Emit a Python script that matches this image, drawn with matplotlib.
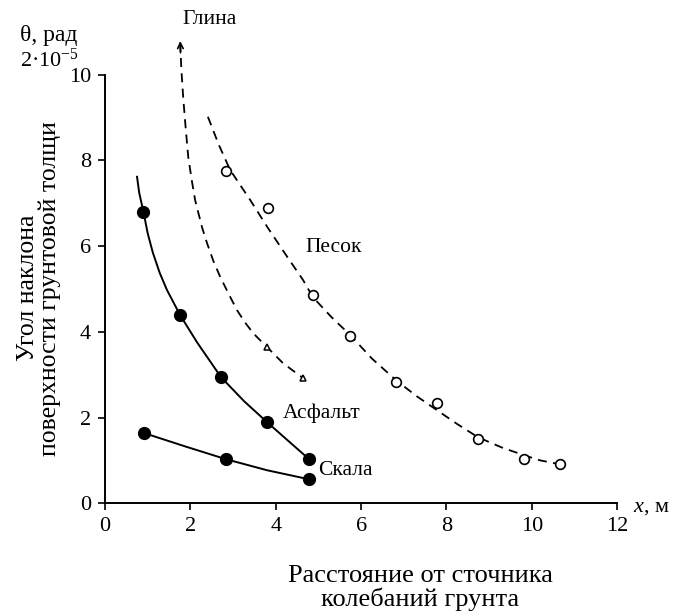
import matplotlib
matplotlib.use('Agg')
from matplotlib import pyplot as plt

plt.rcParams['font.family'] = ['Liberation Serif', 'DejaVu Serif']
plt.rcParams['mathtext.fontset'] = 'custom'
plt.rcParams['mathtext.rm'] = 'Liberation Serif'
plt.rcParams['mathtext.it'] = 'Liberation Serif:italic'

# Асфальт: measured points and curve
asph_x = [0.90, 1.76, 2.72, 3.80, 4.78]
asph_y = [6.8, 4.39, 2.94, 1.89, 1.03]
asph_cx = [0.75, 0.80, 0.90, 1.00, 1.12, 1.28, 1.45, 1.76, 2.16, 2.72, 3.26, 3.80, 4.3, 4.78]
asph_cy = [7.62, 7.25, 6.80, 6.30, 5.85, 5.38, 4.98, 4.39, 3.75, 2.94, 2.38, 1.89, 1.45, 1.03]

# Скала
rock_x = [0.91, 2.83, 4.78]
rock_y = [1.64, 1.03, 0.56]
rock_cx = [0.91, 1.9, 2.83, 3.8, 4.78]
rock_cy = [1.64, 1.32, 1.03, 0.77, 0.56]

# Глина
clay_x = [3.80, 4.64]
clay_y = [3.64, 2.92]
clay_cx = [1.76, 1.79, 1.83, 1.89, 1.95, 2.03, 2.11, 2.27, 2.39, 2.54, 2.70, 2.90, 3.09, 3.28, 3.47, 3.80, 4.17, 4.64]
clay_cy = [10.75, 10.1, 9.49, 8.75, 8.08, 7.55, 7.08, 6.45, 6.07, 5.65, 5.28, 4.88, 4.51, 4.22, 3.97, 3.64, 3.27, 2.92]

# Песок
sand_x = [2.84, 3.82, 4.87, 5.74, 6.81, 7.78, 8.74, 9.81, 10.66]
sand_y = [7.76, 6.89, 4.86, 3.90, 2.83, 2.34, 1.50, 1.03, 0.91]
sand_cx = [2.41, 2.66, 2.93, 3.40, 3.80, 4.27, 4.64, 4.87, 5.3, 5.74, 6.25, 6.82, 7.3, 7.78, 8.25, 8.74, 9.3, 9.82, 10.2, 10.66]
sand_cy = [9.02, 8.38, 7.78, 7.08, 6.45, 5.75, 5.21, 4.81, 4.35, 3.93, 3.38, 2.87, 2.5, 2.17, 1.85, 1.54, 1.3, 1.12, 1.0, 0.91]

xticks = [0, 2, 4, 6, 8, 10, 12]
yticks = [0, 2, 4, 6, 8, 10]

fig = plt.figure(figsize=(6.82, 6.13), dpi=100)
ax = fig.add_axes([0.154, 0.179, 0.751, 0.699])

ax.plot(asph_cx, asph_cy, 'k-', lw=1.4, clip_on=False)
ax.plot(asph_x, asph_y, 'ko', ms=8.5, clip_on=False)
ax.plot(rock_cx, rock_cy, 'k-', lw=1.4, clip_on=False)
ax.plot(rock_x, rock_y, 'ko', ms=8.5, clip_on=False)

ax.plot(clay_cx, clay_cy, 'k--', lw=1.3, dashes=(5, 3.5), clip_on=False)
ax.plot(clay_x, clay_y, '^', ms=5, mfc='white', mec='k', mew=1.1, clip_on=False)
ax.annotate('', xy=(clay_cx[0], clay_cy[0] + 0.1), xytext=(clay_cx[0] + 0.01, clay_cy[0] - 0.3),
            arrowprops=dict(arrowstyle='->', lw=1.2, color='k'), annotation_clip=False)

ax.plot(sand_cx, sand_cy, 'k--', lw=1.3, dashes=(5, 3.5), clip_on=False)
ax.plot(sand_x, sand_y, 'o', ms=7, mfc='white', mec='k', mew=1.2, clip_on=False)

fs = 15.5
ax.text(2.46, 11.3, 'Глина', fontsize=fs, ha='center', va='center')
ax.text(5.36, 5.96, 'Песок', fontsize=fs, ha='center', va='center')
ax.text(5.08, 2.1, 'Асфальт', fontsize=fs, ha='center', va='center')
ax.text(5.64, 0.77, 'Скала', fontsize=fs, ha='center', va='center')

ax.set_xlim(0, 12)
ax.set_ylim(0, 10)
ax.set_xticks(xticks)
ax.set_yticks(yticks)
ax.spines['top'].set_visible(False)
ax.spines['right'].set_visible(False)
ax.spines['left'].set_linewidth(1.4)
ax.spines['bottom'].set_linewidth(1.4)
ax.tick_params(direction='out', length=5, width=1.2, labelsize=16, pad=5)

fig.text(0.03, 0.942, 'θ, рад', fontsize=17, ha='left', va='center')
fig.text(0.03, 0.902, r'2·10$^{\mathregular{-5}}$', fontsize=16, ha='left', va='center')
fig.text(0.928, 0.172, r'$\mathit{x}$, м', fontsize=16, ha='left', va='center')
fig.text(0.057, 0.53, 'Угол наклона\nповерхности грунтовой толщи', fontsize=18.5,
         rotation=90, ha='center', va='center', linespacing=1.0)
fig.text(0.616, 0.041, 'Расстояние от сточника\nколебаний грунта', fontsize=19,
         ha='center', va='center', linespacing=1.0)

fig.savefig('out.png', dpi=100)
